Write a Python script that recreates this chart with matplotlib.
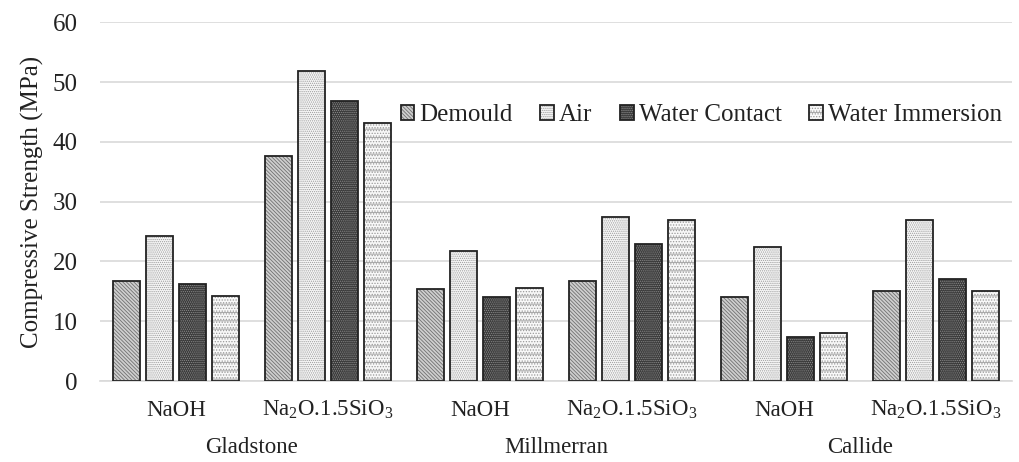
import matplotlib.pyplot as plt
import matplotlib.transforms as mtransforms
from matplotlib.legend_handler import HandlerTuple
import numpy as np

plt.rcParams['font.family'] = ['Liberation Serif', 'DejaVu Serif']
plt.rcParams['mathtext.fontset'] = 'custom'
plt.rcParams['mathtext.rm'] = 'Liberation Serif'
plt.rcParams['mathtext.it'] = 'Liberation Serif:italic'
plt.rcParams['hatch.linewidth'] = 0.6

# chart data
sources = ['Gladstone', 'Millmerran', 'Callide']
activators = ['NaOH', 'Na$_2$O.1.5SiO$_3$']
series = ['Demould', 'Air', 'Water Contact', 'Water Immersion']
demould = [16.8, 37.6, 15.4, 16.8, 14.0, 15.0]
air = [24.3, 51.9, 21.7, 27.5, 22.5, 27.0]
water_contact = [16.2, 46.8, 14.0, 23.0, 7.4, 17.0]
water_immersion = [14.3, 43.1, 15.6, 27.0, 8.0, 15.0]

values = [demould, air, water_contact, water_immersion]
face = ['#cfcfcf', '#f6f6f6', '#3a3a3a', '#f8f8f8']
hatch_col = ['#707070', '#9c9c9c', '#8c8c8c', '#9a9a9a']
hatches = ['\\' * 9, '.' * 8, '.' * 8, '-' * 2 + '.' * 6]

fig = plt.figure(figsize=(10.2, 4.62), dpi=100)
ax = fig.add_axes([0.098, 0.175, 0.894, 0.777])

x = np.arange(len(demould))
slot = 0.217
width = 0.178
handles = []
for j in range(4):
    pos = x + (j - 1.5) * slot
    plt.rcParams['hatch.color'] = hatch_col[j]
    b1 = ax.bar(pos, values[j], width, color=face[j], hatch=hatches[j],
                edgecolor=hatch_col[j], linewidth=0, zorder=2)
    b2 = ax.bar(pos, values[j], width, fill=False, edgecolor='#222222',
                linewidth=1.3, zorder=3)
    handles.append((b1[0], b2[0]))

ax.set_xlim(-0.5, 5.5)
ax.set_ylim(0, 60)
ax.set_yticks(range(0, 61, 10))
ax.yaxis.grid(True, color='#d9d9d9', linewidth=1.2, zorder=0)
ax.set_axisbelow(True)
for s in ['top', 'right', 'left']:
    ax.spines[s].set_visible(False)
ax.spines['bottom'].set_color('#d9d9d9')
ax.spines['bottom'].set_linewidth(1.2)
ax.tick_params(axis='y', length=0, pad=16, labelsize=18, labelcolor='#222222')
ax.tick_params(axis='x', length=0)
ax.set_xticks([])
ax.set_ylabel('Compressive Strength (MPa)', fontsize=18, color='#222222', labelpad=6)

trans = mtransforms.blended_transform_factory(ax.transData, ax.transAxes)
for i in range(len(x)):
    ax.text(x[i], -0.081, activators[i % 2], transform=trans, ha='center',
            va='center', fontsize=16.5, color='#222222')
for k, name in enumerate(sources):
    ax.text(2 * k + 0.5, -0.184, name, transform=trans, ha='center',
            va='center', fontsize=16.5, color='#222222')

leg = ax.legend(handles, series, handler_map={tuple: HandlerTuple(ndivide=1)},
                loc='center right', bbox_to_anchor=(1.008, 0.741), ncol=4,
                frameon=False, fontsize=18, handlelength=0.55, handleheight=0.55,
                handletextpad=0.2, columnspacing=1.1, borderpad=0.2)
for t in leg.get_texts():
    t.set_color('#222222')

fig.savefig('out.png', dpi=100, facecolor='white')
